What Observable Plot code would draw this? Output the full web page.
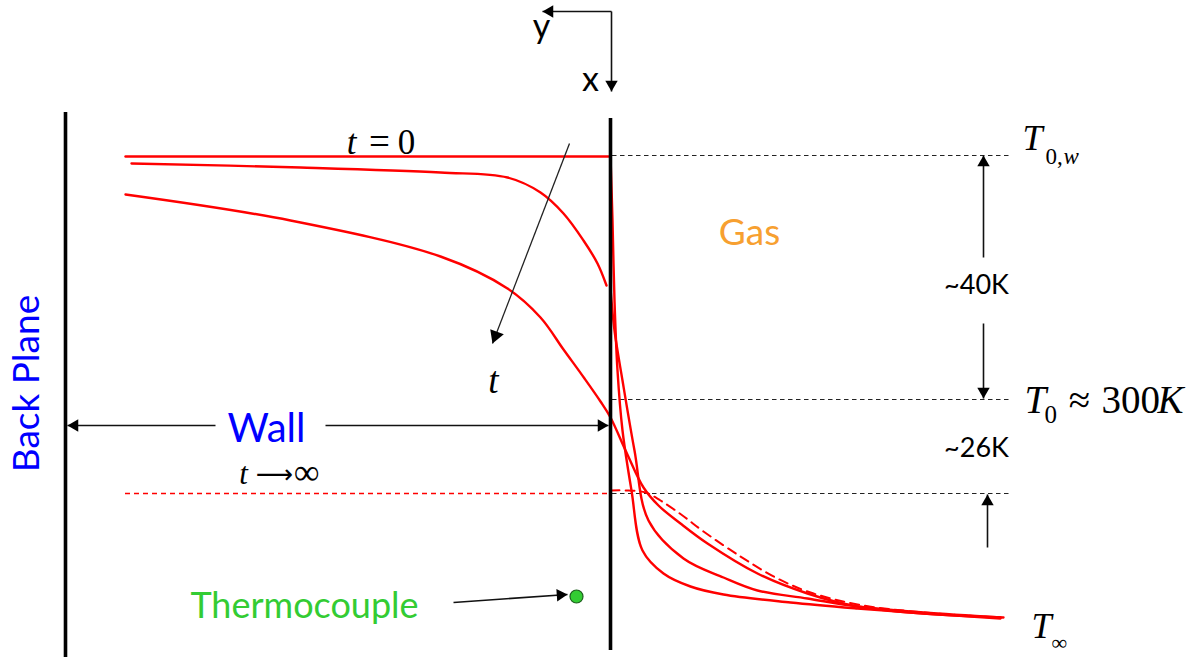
<!DOCTYPE html>
<html>
<head>
<meta charset="utf-8">
<script src="https://cdn.jsdelivr.net/npm/d3@7"></script>
<script src="https://cdn.jsdelivr.net/npm/@observablehq/plot@0.6"></script>
<style>
  html, body { margin: 0; padding: 0; background: #fff; }
  #chart svg { display: block; }
</style>
</head>
<body>
<div id="chart"></div>
<script>
// Temperature profiles through the wall and into the gas, in diagram units
// (first value: position across the sketch, second: level, growing downward = colder).
const profileStartWall = [[125, 156], [608, 156]];
const profileStartGas = [[610, 156], [612, 220], [614, 300], [617, 370], [622, 430], [631, 490], [642, 550], [663, 573], [690, 586], [723, 594], [790, 602], [857, 608], [923, 613], [1000, 618]];
const profileEarlyWall = [[131, 163], [300, 167], [440, 172], [507, 177], [540, 192], [563, 213], [583, 240], [597, 263], [606, 285]];
const profileEarlyGas = [[610, 288], [614, 330], [622, 380], [634, 450], [648, 520], [683, 558], [723, 577], [757, 590], [807, 598], [857, 606], [923, 612], [1000, 617]];
const profileLate = [[125, 194], [290, 220], [440, 256], [507, 288], [540, 317], [563, 349], [584, 378], [600, 401], [610, 417], [626, 452], [643, 487], [658, 505], [680, 523], [707, 543], [757, 573], [807, 593], [857, 606], [923, 613], [1003, 617]];
const profileSteadyGas = [[610, 490], [628, 490], [645, 492], [660, 500], [682, 515], [703, 531], [740, 556], [775, 577], [810, 592], [857, 604], [923, 612], [1000, 617]];
const steadyWallLevel = [493];

// Reference levels: T0,w, T0 and the steady wall temperature
const levels = [155, 399, 493];

// Wall planes: back plane and gas-side face
const walls = [
  {x: 65, top: 112, bottom: 657},
  {x: 610, top: 118, bottom: 650}
];

// Annotation arrows (tail -> tip)
const bigArrows = [
  {x1: 569, y1: 143, x2: 492, y2: 343}
];
const smallArrows = [
  {x1: 215, y1: 425, x2: 67, y2: 425},
  {x1: 325, y1: 425, x2: 608, y2: 425},
  {x1: 983, y1: 257, x2: 983, y2: 155},
  {x1: 983, y1: 323, x2: 983, y2: 398},
  {x1: 987, y1: 547, x2: 987, y2: 494},
  {x1: 453, y1: 602, x2: 567, y2: 594},
  {x1: 611, y1: 11, x2: 611, y2: 91},
  {x1: 611, y1: 11, x2: 542, y2: 11}
];
const thermocouple = [{x: 576, y: 596}];

const RED = "#ff0000";
const SANS = "Lato, 'Open Sans', sans-serif";
const SERIF = "'Liberation Serif', 'DejaVu Serif', serif";

// Filled triangular arrowhead placed so its apex sits on the arrow tip
function heads(list, r) {
  const size = Math.PI * r * r;
  const apex = 2 * Math.sqrt(size / (3 * Math.sqrt(3)));
  return list.map(a => {
    const dx = a.x2 - a.x1, dy = a.y2 - a.y1, L = Math.hypot(dx, dy);
    const ux = dx / L, uy = dy / L;
    return {x: a.x2 - ux * apex, y: a.y2 - uy * apex, rotate: Math.atan2(ux, -uy) * 180 / Math.PI};
  });
}

const px = d => d[0], py = d => d[1];
const profile = (data, extra = {}) =>
  Plot.line(data, {x: px, y: py, stroke: RED, strokeWidth: 2.4, curve: "catmull-rom", ...extra});

const text = (t, x, y, o) => Plot.text([t], {x: () => x, y: () => y, text: d => d, lineAnchor: "bottom", ...o});

const chart = Plot.plot({
  width: 1201,
  height: 657,
  margin: 0,
  x: {domain: [0, 1201], range: [0, 1201], axis: null},
  y: {domain: [0, 657], range: [0, 657], axis: null},
  marks: [
    // dashed reference levels on the gas side
    Plot.ruleY(levels, {y: d => d, x1: 612, x2: 1012, stroke: "#222", strokeWidth: 1.1, strokeDasharray: "4.5,3.5"}),
    // steady wall temperature (t → ∞)
    Plot.ruleY(steadyWallLevel, {y: d => d, x1: 125, x2: 608, stroke: RED, strokeWidth: 1.5, strokeDasharray: "5,4"}),

    // temperature profiles
    profile(profileStartWall, {curve: "linear"}),
    profile(profileStartGas),
    profile(profileEarlyWall),
    profile(profileEarlyGas),
    profile(profileLate),
    profile(profileSteadyGas, {strokeWidth: 2, strokeDasharray: "9,6"}),

    // walls
    Plot.ruleX(walls, {x: "x", y1: "top", y2: "bottom", stroke: "black", strokeWidth: 3.6}),

    // arrows
    Plot.link(bigArrows, {x1: "x1", y1: "y1", x2: "x2", y2: "y2", stroke: "#222", strokeWidth: 1.3}),
    Plot.dot(heads(bigArrows, 5.4), {x: "x", y: "y", rotate: "rotate", symbol: "triangle", r: 5.4, fill: "black", stroke: "none"}),
    Plot.link(smallArrows, {x1: "x1", y1: "y1", x2: "x2", y2: "y2", stroke: "#111", strokeWidth: 1.6}),
    Plot.dot(heads(smallArrows, 4.6), {x: "x", y: "y", rotate: "rotate", symbol: "triangle", r: 4.6, fill: "black", stroke: "none"}),

    // thermocouple bead
    Plot.dot(thermocouple, {x: "x", y: "y", r: 6.5, fill: "#33cc33", stroke: "#1d5e1d", strokeWidth: 1.2}),

    // sans-serif labels
    text("Gas", 749, 244, {fontFamily: SANS, fontSize: 37, fill: "#f7a030"}),
    text("Wall", 266, 441, {fontFamily: SANS, fontSize: 40, fill: "#0000ff"}),
    text("Thermocouple", 304, 617, {fontFamily: SANS, fontSize: 36, fill: "#33cc33"}),
    Plot.text(["Back Plane"], {x: () => 27, y: () => 383, text: d => d, rotate: -90, fontFamily: SANS, fontSize: 37, fill: "#0000ff"}),
    text("~40K", 976, 293, {fontFamily: SANS, fontSize: 27, fill: "black"}),
    text("~26K", 976, 456, {fontFamily: SANS, fontSize: 27, fill: "black"}),
    text("y", 541, 37, {fontFamily: SANS, fontSize: 34, fill: "black"}),
    text("x", 590, 90, {fontFamily: SANS, fontSize: 34, fill: "black"}),

    // math labels
    text("t", 351, 153, {fontFamily: SERIF, fontSize: 35, fontStyle: "italic", fill: "black"}),
    text("=", 379, 153, {fontFamily: SERIF, fontSize: 37, fill: "black"}),
    text("0", 406, 153, {fontFamily: SERIF, fontSize: 35, fill: "black"}),
    text("t", 493, 392, {fontFamily: SERIF, fontSize: 37, fontStyle: "italic", fill: "black"}),
    text("t", 243, 483, {fontFamily: SERIF, fontSize: 31, fontStyle: "italic", fill: "black"}),
    text("⟶", 274, 482, {fontFamily: "'DejaVu Sans', sans-serif", fontSize: 26, fill: "black"}),
    text("∞", 306, 483, {fontFamily: SERIF, fontSize: 36, fill: "black"}),

    text("T", 1022, 149, {fontFamily: SERIF, fontSize: 36, fontStyle: "italic", textAnchor: "start", fill: "black"}),
    text("0,", 1045, 163, {fontFamily: SERIF, fontSize: 23, textAnchor: "start", fill: "black"}),
    text("w", 1063, 163, {fontFamily: SERIF, fontSize: 23, fontStyle: "italic", textAnchor: "start", fill: "black"}),

    text("T", 1024, 412, {fontFamily: SERIF, fontSize: 39, fontStyle: "italic", textAnchor: "start", fill: "black"}),
    text("0", 1044, 422, {fontFamily: SERIF, fontSize: 25, textAnchor: "start", fill: "black"}),
    text("≈", 1079, 412, {fontFamily: SERIF, fontSize: 39, fill: "black"}),
    text("300", 1101, 412, {fontFamily: SERIF, fontSize: 39, textAnchor: "start", fill: "black"}),
    text("K", 1157, 412, {fontFamily: SERIF, fontSize: 39, fontStyle: "italic", textAnchor: "start", fill: "black"}),

    text("T", 1031, 637, {fontFamily: SERIF, fontSize: 36, fontStyle: "italic", textAnchor: "start", fill: "black"}),
    text("∞", 1051, 649, {fontFamily: SERIF, fontSize: 22, textAnchor: "start", fill: "black"})
  ]
});

document.getElementById("chart").append(chart);
</script>
</body>
</html>
